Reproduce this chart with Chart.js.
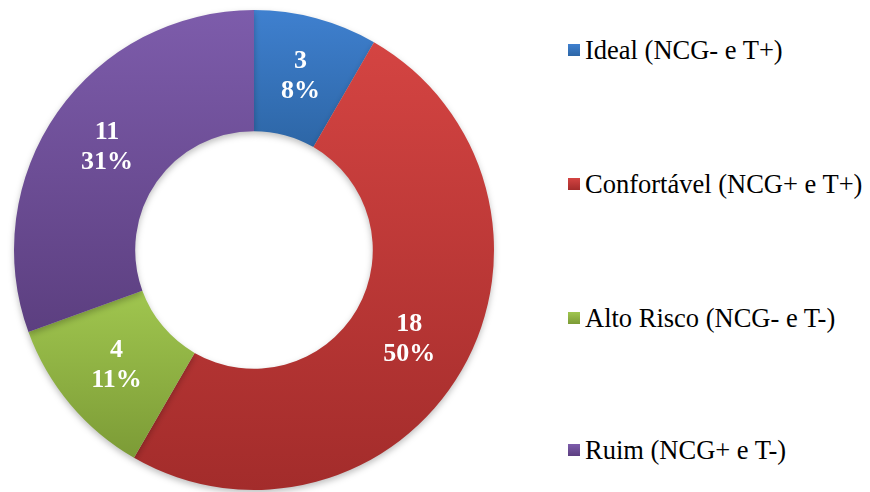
<!DOCTYPE html>
<html>
<head>
<meta charset="utf-8">
<script src="https://cdn.jsdelivr.net/npm/chart.js@4"></script>
<style>
  html, body { margin: 0; padding: 0; background: #fff; }
  #wrap { position: relative; width: 870px; height: 492px; }
  #chart { position: absolute; left: 0; top: 0; }
  #legend { position: absolute; left: 568px; top: 0; font-family: 'Liberation Serif', 'DejaVu Serif', serif; font-size: 26.5px; color: #000; }
  .item { position: absolute; white-space: nowrap; display: flex; align-items: center; line-height: 28px; }
  .box { width: 12px; height: 12px; margin-right: 5px; }
</style>
</head>
<body>
<div id="wrap">
  <canvas id="chart" width="508" height="492"></canvas>
  <div id="legend"></div>
</div>
<script>
// doughnut data
const labels = ['Ideal (NCG- e T+)', 'Confortável (NCG+ e T+)', 'Alto Risco (NCG- e T-)', 'Ruim (NCG+ e T-)'];
const values = [3, 18, 4, 11];
// top / bottom colour of each slice's vertical gradient
const topColors = ['#3f80cf', '#d44442', '#a0c64f', '#7d5cab'];
const bottomColors = ['#2d66a6', '#a32c2b', '#7c9b36', '#5c3f80'];
const legendTops = [36, 170, 304, 436];

const total = values.reduce((a, b) => a + b, 0);

// vertical gradient per slice, sized to the slice's own extent
const sliceGradient = {
  id: 'sliceGradient',
  beforeDatasetsDraw(chart) {
    const ctx = chart.ctx;
    chart.getDatasetMeta(0).data.forEach((arc, i) => {
      const p = arc.getProps(['x', 'y', 'startAngle', 'endAngle', 'innerRadius', 'outerRadius'], true);
      let minY = Infinity, maxY = -Infinity;
      for (let k = 0; k <= 40; k++) {
        const a = p.startAngle + (p.endAngle - p.startAngle) * k / 40;
        [p.innerRadius, p.outerRadius].forEach(r => {
          const y = p.y + Math.sin(a) * r;
          minY = Math.min(minY, y); maxY = Math.max(maxY, y);
        });
      }
      const g = ctx.createLinearGradient(0, minY, 0, maxY);
      g.addColorStop(0, topColors[i]);
      g.addColorStop(1, bottomColors[i]);
      arc.options.backgroundColor = g;
    });
    ctx.save();
    ctx.shadowColor = 'rgba(0,0,0,0.25)';
    ctx.shadowBlur = 6;
    ctx.shadowOffsetY = 3;
  },
  afterDatasetsDraw(chart) {
    chart.ctx.restore();
  }
};

// value + percentage written in the middle of each ring segment
const sliceLabels = {
  id: 'sliceLabels',
  afterDraw(chart) {
    const ctx = chart.ctx;
    ctx.save();
    ctx.fillStyle = '#fff';
    ctx.font = 'bold 26px "Liberation Serif", "DejaVu Serif", serif';
    ctx.textAlign = 'center';
    ctx.textBaseline = 'middle';
    chart.getDatasetMeta(0).data.forEach((arc, i) => {
      const p = arc.getProps(['x', 'y', 'startAngle', 'endAngle', 'innerRadius', 'outerRadius'], true);
      const a = (p.startAngle + p.endAngle) / 2;
      const r = (p.innerRadius + p.outerRadius) / 2;
      const x = p.x + Math.cos(a) * r;
      const y = p.y + Math.sin(a) * r;
      ctx.fillText(String(values[i]), x, y - 15);
      ctx.fillText(Math.round(values[i] / total * 100) + '%', x, y + 15);
    });
    ctx.restore();
  }
};

new Chart(document.getElementById('chart'), {
  type: 'doughnut',
  data: {
    labels,
    datasets: [{
      data: values,
      backgroundColor: topColors,
      borderWidth: 0
    }]
  },
  options: {
    responsive: false,
    animation: false,
    cutout: '49.5%',
    layout: { padding: { left: 14, right: 14, top: 10, bottom: 2 } },
    plugins: {
      legend: { display: false },
      tooltip: { enabled: false }
    }
  },
  plugins: [sliceGradient, sliceLabels]
});

// legend on the right
const legend = document.getElementById('legend');
labels.forEach((l, i) => {
  const d = document.createElement('div');
  d.className = 'item';
  d.style.top = legendTops[i] + 'px';
  d.innerHTML = `<span class="box" style="background:linear-gradient(${topColors[i]},${bottomColors[i]})"></span><span>${l}</span>`;
  legend.appendChild(d);
});
</script>
</body>
</html>
